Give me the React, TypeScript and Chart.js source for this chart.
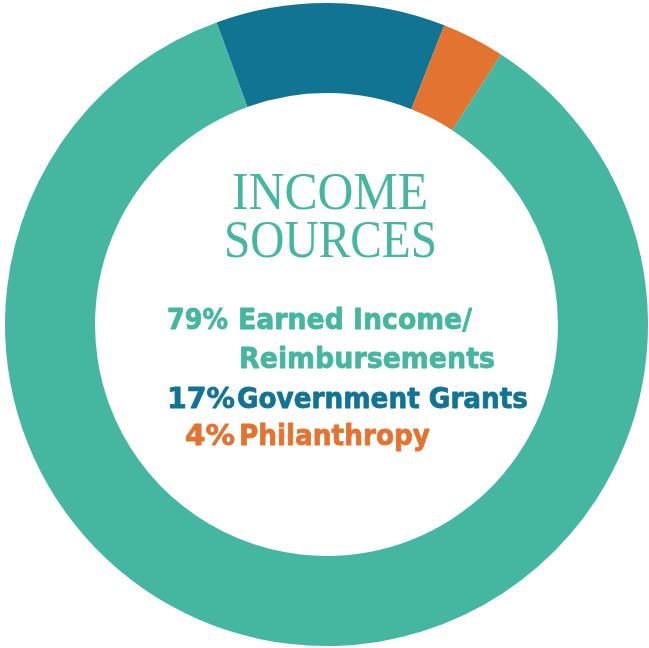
import React, { useEffect, useRef } from "react";
import { Chart, registerables } from "chart.js";

Chart.register(...registerables);

// Segment spans (degrees of arc), clockwise from rotation start
const categories = ["Government Grants", "Philanthropy", "Earned Income/Reimbursements"];
const arcValues = [41.5, 11.4, 307.1];
const colors = ["#127493", "#E27331", "#45B69F"];

const titleLines = ["INCOME", "SOURCES"];
const pctLabels = ["79%", "", "17%", "4%"];
const nameLabels = ["Earned Income/", "Reimbursements", "Government Grants", "Philanthropy"];
const lineColors = ["#45B69F", "#45B69F", "#127493", "#E27331"];

function fitText(ctx: CanvasRenderingContext2D, text: string, x: number, y: number, w: number, stroke = 0) {
  const m = ctx.measureText(text).width;
  ctx.save();
  ctx.translate(x, y);
  ctx.scale(w / m, 1);
  ctx.fillText(text, 0, 0);
  if (stroke > 0) {
    ctx.lineWidth = stroke;
    ctx.strokeStyle = ctx.fillStyle as string;
    ctx.lineJoin = "round";
    ctx.strokeText(text, 0, 0);
  }
  ctx.restore();
}

const textPlugin = {
  id: "centerText",
  afterDraw(chart: any) {
    const ctx: CanvasRenderingContext2D = chart.ctx;
    ctx.save();
    ctx.textAlign = "left";
    ctx.textBaseline = "alphabetic";
    ctx.fillStyle = "#45B69F";
    ctx.font = "normal 52px 'Liberation Serif'";
    const titlePos = [
      { x: 232, y: 209, w: 196 },
      { x: 224, y: 257, w: 213 },
    ];
    titleLines.forEach((t, i) => fitText(ctx, t, titlePos[i].x, titlePos[i].y, titlePos[i].w));

    ctx.font = "bold 29px 'DejaVu Sans'";
    const pctPos = [
      { x: 167, w: 61 },
      { x: 0, w: 0 },
      { x: 167, w: 68 },
      { x: 185, w: 50 },
    ];
    const namePos = [
      { x: 238, w: 234 },
      { x: 239, w: 256 },
      { x: 237, w: 291 },
      { x: 239, w: 191 },
    ];
    const baselines = [329, 368, 407.5, 445];
    nameLabels.forEach((n, i) => {
      ctx.fillStyle = lineColors[i];
      if (pctLabels[i]) fitText(ctx, pctLabels[i], pctPos[i].x, baselines[i], pctPos[i].w, 0.8);
      fitText(ctx, n, namePos[i].x, baselines[i], namePos[i].w, 0.8);
    });
    ctx.restore();
  },
};

export default function App() {
  const ref = useRef<HTMLCanvasElement | null>(null);
  useEffect(() => {
    if (!ref.current) return;
    const chart = new Chart(ref.current, {
      type: "doughnut",
      data: {
        labels: categories,
        datasets: [
          {
            data: arcValues,
            backgroundColor: colors,
            borderWidth: 0,
          },
        ],
      },
      options: {
        animation: false,
        responsive: true,
        maintainAspectRatio: false,
        rotation: -20,
        cutout: "72%",
        layout: { padding: { left: 5, right: 1, top: 3, bottom: 2 } },
        plugins: {
          legend: { display: false },
          tooltip: { enabled: false },
        },
      },
      plugins: [textPlugin],
    });
    return () => chart.destroy();
  }, []);
  return (
    <div style={{ position: "fixed", left: 0, top: 0, width: 649, height: 648, background: "#fff" }}>
      <canvas ref={ref} />
    </div>
  );
}
